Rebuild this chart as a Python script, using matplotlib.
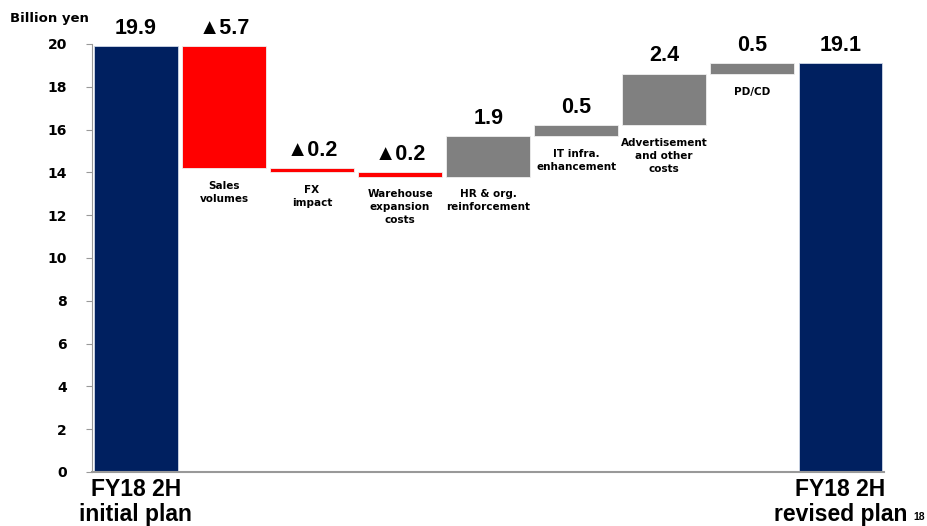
import numpy as np
import matplotlib
matplotlib.use("Agg")
import matplotlib.pyplot as plt

plt.rcParams['font.family'] = ['Liberation Sans', 'DejaVu Sans']

# waterfall data (billion yen)
start_label = "FY18 2H\ninitial plan"
end_label = "FY18 2H\nrevised plan"
start_value = 19.9
end_value = 19.1
step_names = ["Sales\nvolumes", "FX\nimpact", "Warehouse\nexpansion\ncosts",
              "HR & org.\nreinforcement", "IT infra.\nenhancement",
              "Advertisement\nand other\ncosts", "PD/CD"]
step_values = [-5.7, -0.2, -0.2, 1.9, 0.5, 2.4, 0.5]
y_ticks = [0, 2, 4, 6, 8, 10, 12, 14, 16, 18, 20]

NAVY = "#002060"
RED = "#FF0000"
GRAY = "#808080"
WIDE = ['DejaVu Sans']

fig = plt.figure(figsize=(9.28, 5.26), dpi=100)
ax = fig.add_axes([0.099, 0.1027, 0.854, 0.8137])

n = len(step_values) + 2
x = np.arange(n)
width = 0.95

# totals
ax.bar(x[0], start_value, width, color=NAVY, edgecolor="#d0d8e8", linewidth=0.6)
ax.bar(x[-1], end_value, width, color=NAVY, edgecolor="#d0d8e8", linewidth=0.6)
ax.text(x[0], start_value + 0.35, f"{start_value:.1f}", ha="center", va="bottom",
        fontsize=15.5, fontweight="bold")
ax.text(x[-1], end_value + 0.35, f"{end_value:.1f}", ha="center", va="bottom",
        fontsize=15.5, fontweight="bold")

# floating steps
level = start_value
for i, (name, v) in enumerate(zip(step_names, step_values), start=1):
    new_level = round(level + v, 2)
    lo, hi = min(level, new_level), max(level, new_level)
    color = RED if v < 0 else GRAY
    ax.bar(x[i], hi - lo, width, bottom=lo, color=color, edgecolor="#f0f0f0", linewidth=0.6)
    txt = f"\u25b2{abs(v):.1f}" if v < 0 else f"{v:.1f}"
    ax.text(x[i], hi + 0.35, txt, ha="center", va="bottom", fontsize=15.5,
            fontweight="bold", family=['Liberation Sans', 'Noto Sans CJK JP'])
    ax.text(x[i], lo - 0.6, name, ha="center", va="top", fontsize=7.5,
            fontweight="bold", linespacing=1.35, family=WIDE)
    level = new_level

ax.set_xlim(-0.5, n - 0.5)
ax.set_ylim(0, 20)
ax.set_yticks(y_ticks)
ax.set_yticklabels([str(t) for t in y_ticks], fontsize=10, fontweight="bold", family=WIDE)
ax.set_xticks([])
for side in ["top", "right"]:
    ax.spines[side].set_visible(False)
ax.spines["left"].set_color("#999999")
ax.spines["bottom"].set_color("#999999")
ax.spines["bottom"].set_linewidth(1.5)
ax.tick_params(axis="y", length=4, color="#999999", pad=14)

fig.text(0.011, 0.965, "Billion yen", fontsize=9.5, fontweight="bold", ha="left",
         va="center", family=WIDE)

# endpoint captions under the axis
for xi, lbl in [(x[0], start_label), (x[-1], end_label)]:
    ax.text(xi, -0.3, lbl, ha="center", va="top", fontsize=16.5, fontweight="bold",
            linespacing=1.1)

fig.text(0.997, 0.008, "18", fontsize=7.5, fontweight="bold", ha="right", va="bottom")

fig.savefig("out.png", dpi=100)
